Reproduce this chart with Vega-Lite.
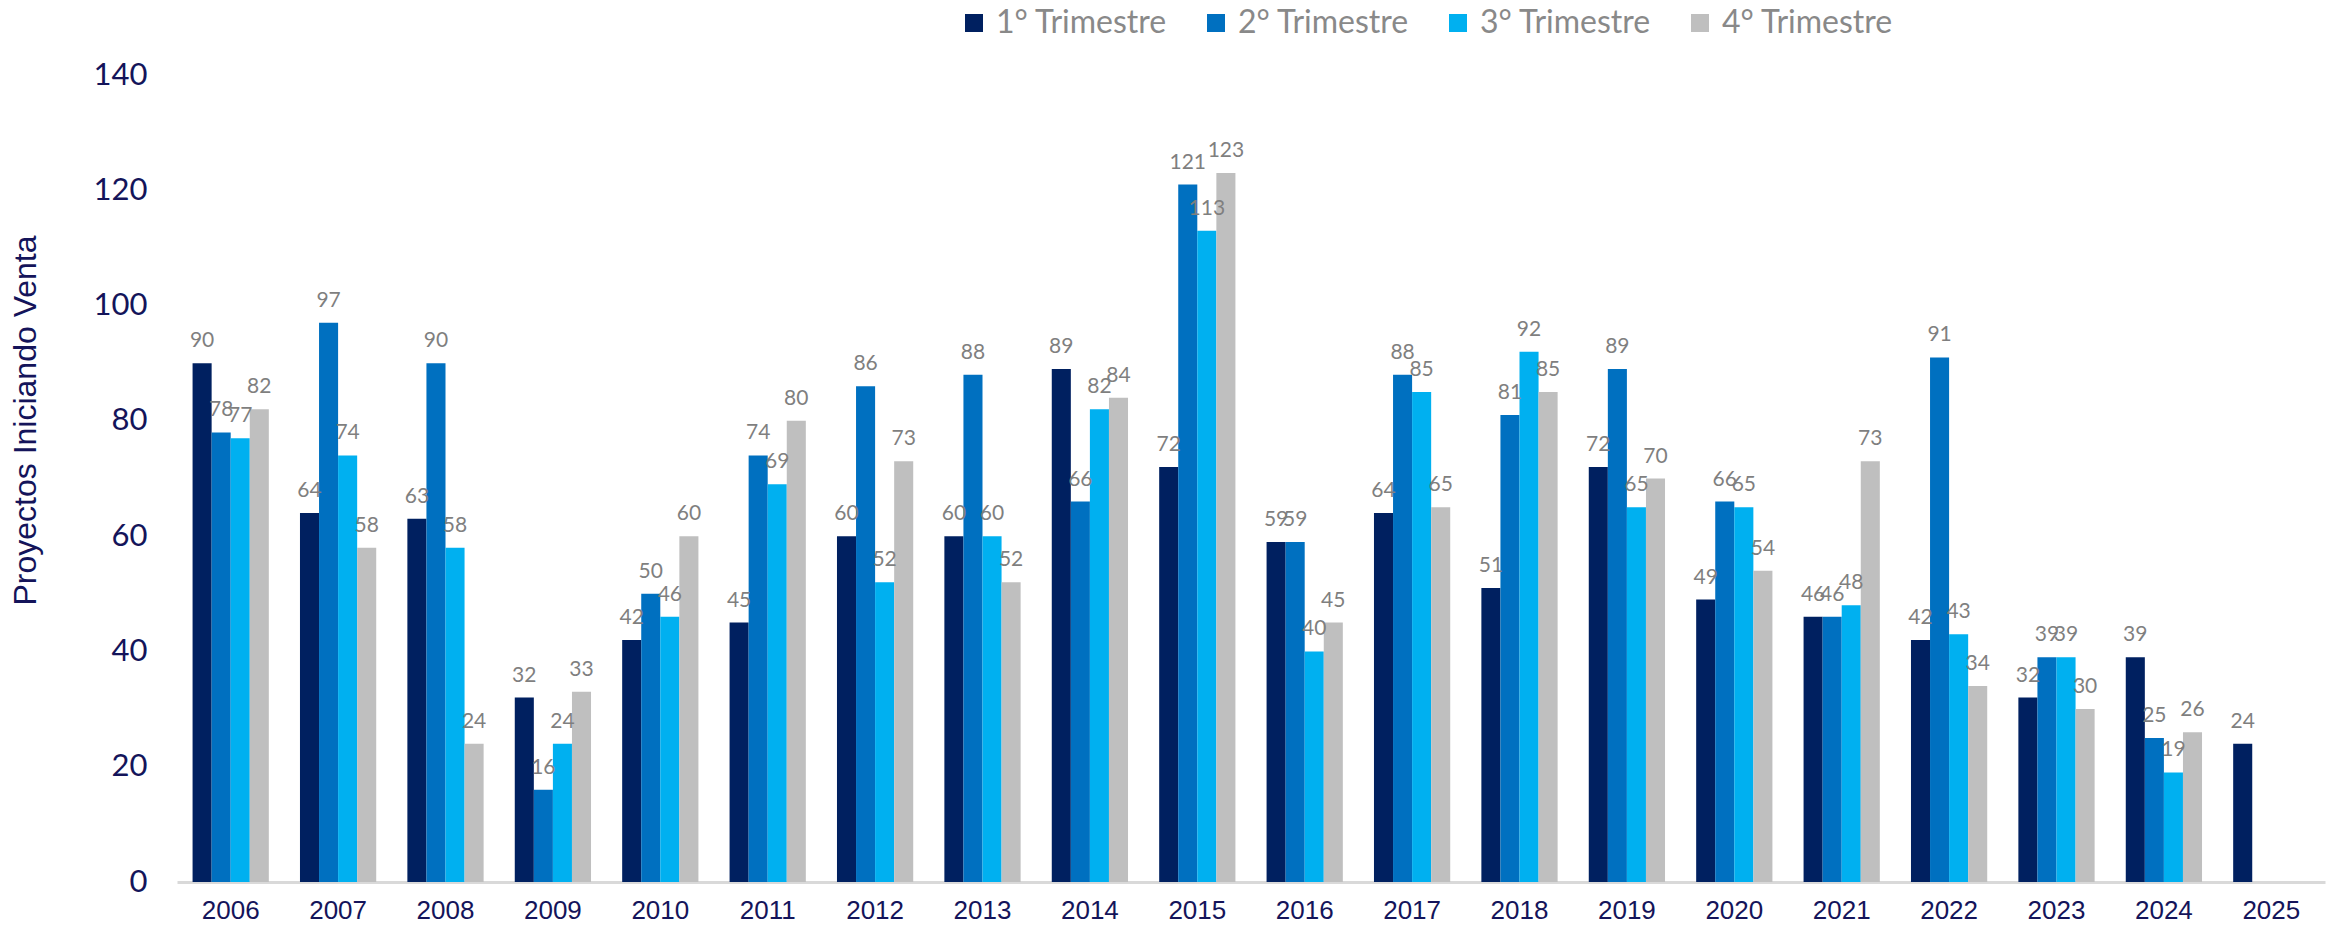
{
  "$schema": "https://vega.github.io/schema/vega-lite/v6.json",
  "width": 2148,
  "height": 807,
  "autosize": {"type": "none"},
  "padding": {"left": 177, "top": 75, "right": 11, "bottom": 45},
  "background": "white",
  "config": {"view": {"stroke": null}},
  "data": {"values": [
    {"year": "2006", "trimestre": "1° Trimestre", "value": 90},
    {"year": "2006", "trimestre": "2° Trimestre", "value": 78},
    {"year": "2006", "trimestre": "3° Trimestre", "value": 77},
    {"year": "2006", "trimestre": "4° Trimestre", "value": 82},
    {"year": "2007", "trimestre": "1° Trimestre", "value": 64},
    {"year": "2007", "trimestre": "2° Trimestre", "value": 97},
    {"year": "2007", "trimestre": "3° Trimestre", "value": 74},
    {"year": "2007", "trimestre": "4° Trimestre", "value": 58},
    {"year": "2008", "trimestre": "1° Trimestre", "value": 63},
    {"year": "2008", "trimestre": "2° Trimestre", "value": 90},
    {"year": "2008", "trimestre": "3° Trimestre", "value": 58},
    {"year": "2008", "trimestre": "4° Trimestre", "value": 24},
    {"year": "2009", "trimestre": "1° Trimestre", "value": 32},
    {"year": "2009", "trimestre": "2° Trimestre", "value": 16},
    {"year": "2009", "trimestre": "3° Trimestre", "value": 24},
    {"year": "2009", "trimestre": "4° Trimestre", "value": 33},
    {"year": "2010", "trimestre": "1° Trimestre", "value": 42},
    {"year": "2010", "trimestre": "2° Trimestre", "value": 50},
    {"year": "2010", "trimestre": "3° Trimestre", "value": 46},
    {"year": "2010", "trimestre": "4° Trimestre", "value": 60},
    {"year": "2011", "trimestre": "1° Trimestre", "value": 45},
    {"year": "2011", "trimestre": "2° Trimestre", "value": 74},
    {"year": "2011", "trimestre": "3° Trimestre", "value": 69},
    {"year": "2011", "trimestre": "4° Trimestre", "value": 80},
    {"year": "2012", "trimestre": "1° Trimestre", "value": 60},
    {"year": "2012", "trimestre": "2° Trimestre", "value": 86},
    {"year": "2012", "trimestre": "3° Trimestre", "value": 52},
    {"year": "2012", "trimestre": "4° Trimestre", "value": 73},
    {"year": "2013", "trimestre": "1° Trimestre", "value": 60},
    {"year": "2013", "trimestre": "2° Trimestre", "value": 88},
    {"year": "2013", "trimestre": "3° Trimestre", "value": 60},
    {"year": "2013", "trimestre": "4° Trimestre", "value": 52},
    {"year": "2014", "trimestre": "1° Trimestre", "value": 89},
    {"year": "2014", "trimestre": "2° Trimestre", "value": 66},
    {"year": "2014", "trimestre": "3° Trimestre", "value": 82},
    {"year": "2014", "trimestre": "4° Trimestre", "value": 84},
    {"year": "2015", "trimestre": "1° Trimestre", "value": 72},
    {"year": "2015", "trimestre": "2° Trimestre", "value": 121},
    {"year": "2015", "trimestre": "3° Trimestre", "value": 113},
    {"year": "2015", "trimestre": "4° Trimestre", "value": 123},
    {"year": "2016", "trimestre": "1° Trimestre", "value": 59},
    {"year": "2016", "trimestre": "2° Trimestre", "value": 59},
    {"year": "2016", "trimestre": "3° Trimestre", "value": 40},
    {"year": "2016", "trimestre": "4° Trimestre", "value": 45},
    {"year": "2017", "trimestre": "1° Trimestre", "value": 64},
    {"year": "2017", "trimestre": "2° Trimestre", "value": 88},
    {"year": "2017", "trimestre": "3° Trimestre", "value": 85},
    {"year": "2017", "trimestre": "4° Trimestre", "value": 65},
    {"year": "2018", "trimestre": "1° Trimestre", "value": 51},
    {"year": "2018", "trimestre": "2° Trimestre", "value": 81},
    {"year": "2018", "trimestre": "3° Trimestre", "value": 92},
    {"year": "2018", "trimestre": "4° Trimestre", "value": 85},
    {"year": "2019", "trimestre": "1° Trimestre", "value": 72},
    {"year": "2019", "trimestre": "2° Trimestre", "value": 89},
    {"year": "2019", "trimestre": "3° Trimestre", "value": 65},
    {"year": "2019", "trimestre": "4° Trimestre", "value": 70},
    {"year": "2020", "trimestre": "1° Trimestre", "value": 49},
    {"year": "2020", "trimestre": "2° Trimestre", "value": 66},
    {"year": "2020", "trimestre": "3° Trimestre", "value": 65},
    {"year": "2020", "trimestre": "4° Trimestre", "value": 54},
    {"year": "2021", "trimestre": "1° Trimestre", "value": 46},
    {"year": "2021", "trimestre": "2° Trimestre", "value": 46},
    {"year": "2021", "trimestre": "3° Trimestre", "value": 48},
    {"year": "2021", "trimestre": "4° Trimestre", "value": 73},
    {"year": "2022", "trimestre": "1° Trimestre", "value": 42},
    {"year": "2022", "trimestre": "2° Trimestre", "value": 91},
    {"year": "2022", "trimestre": "3° Trimestre", "value": 43},
    {"year": "2022", "trimestre": "4° Trimestre", "value": 34},
    {"year": "2023", "trimestre": "1° Trimestre", "value": 32},
    {"year": "2023", "trimestre": "2° Trimestre", "value": 39},
    {"year": "2023", "trimestre": "3° Trimestre", "value": 39},
    {"year": "2023", "trimestre": "4° Trimestre", "value": 30},
    {"year": "2024", "trimestre": "1° Trimestre", "value": 39},
    {"year": "2024", "trimestre": "2° Trimestre", "value": 25},
    {"year": "2024", "trimestre": "3° Trimestre", "value": 19},
    {"year": "2024", "trimestre": "4° Trimestre", "value": 26},
    {"year": "2025", "trimestre": "1° Trimestre", "value": 24}
  ]},
  "encoding": {
    "x": {
      "field": "year", "type": "nominal", "sort": null,
      "scale": {"paddingInner": 0.29, "paddingOuter": 0.145},
      "axis": {
        "title": null, "labelAngle": 0, "labelFont": "Liberation Sans", "labelFontSize": 26,
        "labelColor": "#14145a", "labelPadding": 15, "ticks": false,
        "domainColor": "#d9d9d9", "domainWidth": 3, "grid": false
      }
    },
    "xOffset": {
      "field": "trimestre", "type": "nominal",
      "scale": {"domain": ["1° Trimestre", "2° Trimestre", "3° Trimestre", "4° Trimestre"], "paddingInner": 0, "paddingOuter": 0}
    },
    "y": {
      "field": "value", "type": "quantitative",
      "scale": {"domain": [0, 140], "nice": false},
      "axis": {
        "title": "Proyectos Iniciando Venta", "titleFont": "Liberation Sans", "titleFontSize": 32,
        "titleFontWeight": "normal", "titleColor": "#14145a", "titleX": -135, "titleY": 345,
        "titleAngle": -90, "titleBaseline": "bottom", "titleAlign": "center",
        "values": [0, 20, 40, 60, 80, 100, 120, 140],
        "labelFont": "Lato", "labelFontSize": 31, "labelColor": "#14145a", "labelPadding": 30,
        "ticks": false, "domain": false, "grid": false
      }
    }
  },
  "layer": [
    {
      "mark": {"type": "bar"},
      "encoding": {
        "color": {
          "field": "trimestre", "type": "nominal",
          "scale": {"domain": ["1° Trimestre", "2° Trimestre", "3° Trimestre", "4° Trimestre"], "range": ["#002060", "#0070c0", "#00b0f0", "#bfbfbf"]},
          "legend": {
            "title": null, "orient": "none", "legendX": 781, "legendY": -68, "direction": "horizontal",
            "padding": 0, "symbolType": "square", "symbolSize": 324, "symbolStrokeWidth": 0, "symbolOpacity": 1,
            "labelFont": "Lato", "labelFontSize": 32, "labelColor": "#898989", "labelOffset": 6,
            "labelLimit": 0, "columnPadding": 32
          }
        }
      }
    },
    {
      "mark": {"type": "text", "dy": -16, "baseline": "alphabetic", "font": "Lato", "fontSize": 21, "color": "#7f7f7f"},
      "encoding": {"text": {"field": "value", "type": "quantitative"}}
    }
  ]
}
